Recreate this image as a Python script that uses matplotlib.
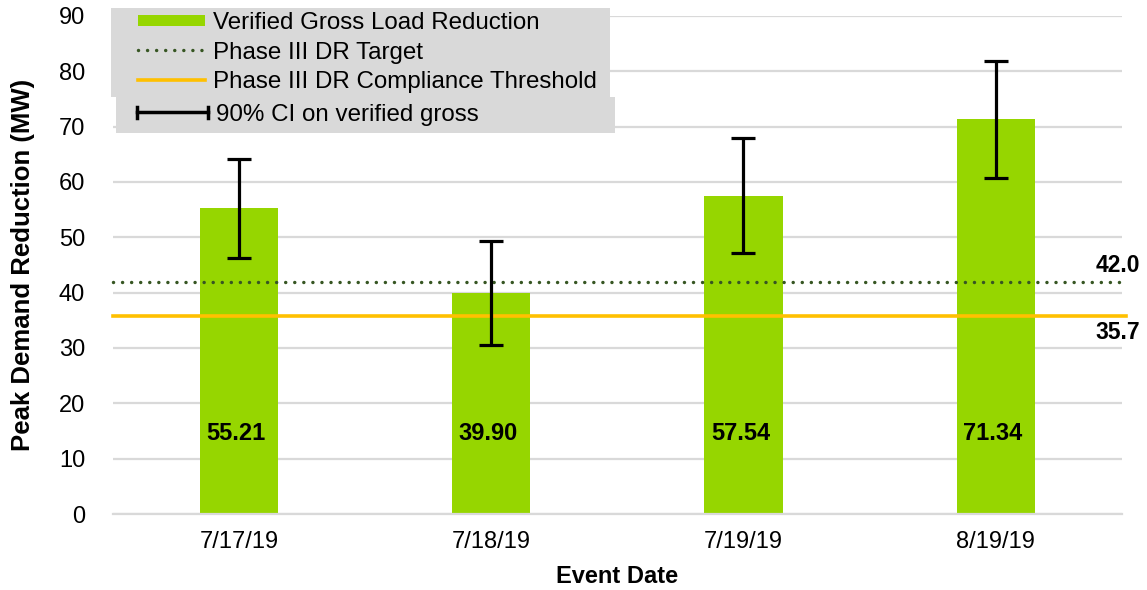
import numpy as np
import matplotlib.pyplot as plt
from matplotlib.lines import Line2D
from matplotlib.patches import Rectangle
from matplotlib.legend_handler import HandlerBase

plt.rcParams['font.family'] = ['Liberation Sans', 'DejaVu Sans']

# --- Data ---
dates = ["7/17/19", "7/18/19", "7/19/19", "8/19/19"]
gross = [55.21, 39.90, 57.54, 71.34]
ci_half = [9.0, 9.4, 10.4, 10.6]
target = 42.0
threshold = 35.7

GREEN = "#96D600"
DARK_GREEN = "#375623"
ORANGE = "#FFC000"
GRID = "#D9D9D9"
DOTS = (0, (0.01, 2.6))


class InsetHandler(HandlerBase):
    # Excel-like legend keys, drawn in the right part of the handle box
    def __init__(self, kind, inset, **style):
        super().__init__()
        self.kind = kind
        self.inset = inset
        self.style = style

    def create_artists(self, legend, orig, xd, yd, width, height, fontsize, trans):
        x0 = xd + width * self.inset
        x1 = xd + width
        y = yd + height / 2
        if self.kind == "patch":
            h = height * 0.62
            art = [Rectangle((x0, y - h / 2), x1 - x0, h, edgecolor="none", **self.style)]
        elif self.kind == "line":
            art = [Line2D([x0, x1], [y, y], **self.style)]
        else:
            h = height * 0.62
            art = [Line2D([x0, x1], [y, y], color="black", lw=2.5),
                   Line2D([x0, x0], [y - h / 2, y + h / 2], color="black", lw=2.5),
                   Line2D([x1, x1], [y - h / 2, y + h / 2], color="black", lw=2.5)]
        for a in art:
            a.set_transform(trans)
        return art


fig = plt.figure(figsize=(11.47, 5.90), dpi=100)
ax = fig.add_axes([0.0985, 0.1288, 0.8795, 0.8442])

x = np.arange(len(dates))
ax.bar(x, gross, width=0.31, color=GREEN, zorder=2)
ax.errorbar(x, gross, yerr=ci_half, fmt="none", ecolor="black",
            elinewidth=2.3, capsize=8.5, capthick=2.3, zorder=4)

ax.axhline(target, color=DARK_GREEN, linestyle=DOTS, linewidth=2.5,
           dash_capstyle="round", zorder=3, xmax=1.004, clip_on=False)
ax.axhline(threshold, color=ORANGE, linewidth=2.6, zorder=3, xmax=1.004, clip_on=False)

for xi, v in zip(x, gross):
    ax.text(xi - 0.012, 14.5, f"{v:.2f}", ha="center", va="center", fontsize=17,
            fontweight="bold", zorder=5)

ax.text(3.573, target + 0.9, f"{target:.1f}", ha="right", va="bottom",
        fontsize=16.5, fontweight="bold", clip_on=False)
ax.text(3.573, threshold - 0.9, f"{threshold:.1f}", ha="right", va="top",
        fontsize=16.5, fontweight="bold", clip_on=False)

ax.set_xlim(-0.5, 3.5)
ax.set_ylim(0, 90)
ax.set_yticks(range(0, 91, 10))
ax.set_xticks(x)
ax.set_xticklabels(dates)
ax.tick_params(axis="both", length=0, labelsize=17)
ax.tick_params(axis="y", pad=20)
ax.tick_params(axis="x", pad=12)
ax.grid(axis="y", color=GRID, linewidth=1.6, zorder=0)
ax.set_axisbelow(True)
for s in ["top", "right", "left"]:
    ax.spines[s].set_visible(False)
ax.spines["bottom"].set_color(GRID)
ax.spines["bottom"].set_linewidth(1.6)

ax.set_xlabel("Event Date", fontsize=17, fontweight="bold", labelpad=9)
ax.set_ylabel("Peak Demand Reduction (MW)", fontsize=18.5, fontweight="bold", labelpad=17)

# legend, split in two boxes like the original
k_bar, k_tgt, k_thr, k_ci = (Line2D([], []) for _ in range(4))
leg_kw = dict(loc="upper left", mode="expand", fontsize=17.4, frameon=True,
              fancybox=False, facecolor=GRID, edgecolor="none", framealpha=1,
              handletextpad=0.33, borderaxespad=0)
leg1 = ax.legend([k_bar, k_tgt, k_thr],
                 ["Verified Gross Load Reduction", "Phase III DR Target",
                  "Phase III DR Compliance Threshold"],
                 handler_map={
                     k_bar: InsetHandler("patch", 0.245, facecolor=GREEN),
                     k_tgt: InsetHandler("line", 0.245, color=DARK_GREEN, lw=2.5,
                                         linestyle=DOTS, dash_capstyle="round"),
                     k_thr: InsetHandler("line", 0.245, color=ORANGE, lw=2.6)},
                 bbox_to_anchor=(-0.0015, 0.816, 0.494, 0.2),
                 handlelength=3.72, labelspacing=0.31, borderpad=0.17, **leg_kw)
ax.add_artist(leg1)

leg2 = ax.legend([k_ci], ["90% CI on verified gross"],
                 handler_map={k_ci: InsetHandler("cap", 0.17)},
                 bbox_to_anchor=(0.0025, 0.637, 0.495, 0.2),
                 handlelength=3.55, borderpad=0.28, **leg_kw)

fig.savefig("out.png", dpi=100)
